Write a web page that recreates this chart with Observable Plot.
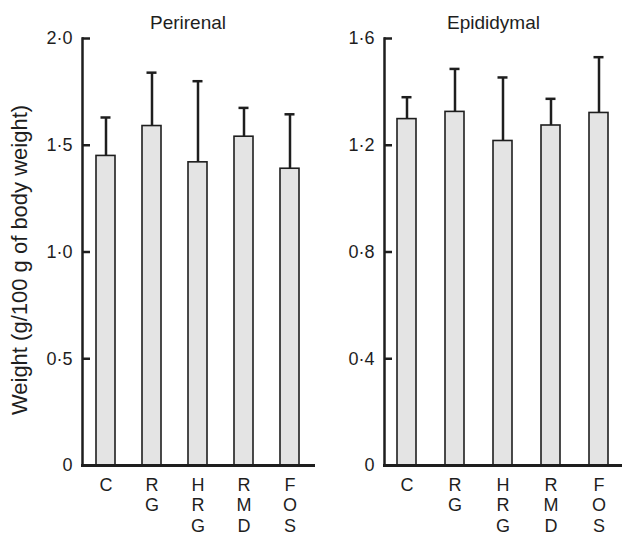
<!DOCTYPE html>
<html>
<head>
<meta charset="utf-8">
<script src="https://cdn.jsdelivr.net/npm/d3@7"></script>
<script src="https://cdn.jsdelivr.net/npm/@observablehq/plot@0.6"></script>
<style>
  html, body { margin: 0; padding: 0; background: #fff; }
  #wrap { position: relative; width: 622px; height: 538px; }
  #wrap svg { position: absolute; top: 0; font-family: "Liberation Sans", Arial, sans-serif; }
</style>
</head>
<body>
<div id="wrap"></div>
<script>
const categories = ["C", "RG", "HRG", "RMD", "FOS"];
const perirenalMean = [1.45, 1.59, 1.42, 1.54, 1.39];
const perirenalUpper = [1.63, 1.84, 1.80, 1.675, 1.645];
const epididymalMean = [1.298, 1.325, 1.216, 1.274, 1.321];
const epididymalUpper = [1.38, 1.486, 1.454, 1.374, 1.53];
const perirenalTicks = [0, 0.5, 1.0, 1.5, 2.0];
const epididymalTicks = [0, 0.4, 0.8, 1.2, 1.6];
const titles = ["Perirenal", "Epididymal"];
const yLabel = "Weight (g/100 g of body weight)";

const fmt = d => d === 0 ? "0" : d.toFixed(1).replace(".", "·");
const ink = "#1e1e1e";

function panel({title, means, uppers, ticks, width, marginLeft, marginRight, paddingOuter, paddingInner, withLabel}) {
  const data = categories.map((c, i) => ({cat: c, mean: means[i], upper: uppers[i]}));
  const frameWidth = width - marginLeft - marginRight;
  const marks = [
    Plot.ruleX(data, {x: "cat", y1: "mean", y2: "upper", stroke: ink, strokeWidth: 2.5}),
    Plot.tickY(data, {x: "cat", y: "upper", stroke: ink, strokeWidth: 2.5, insetLeft: 4.5, insetRight: 4.5}),
    Plot.barY(data, {x: "cat", y: "mean", fill: "#e4e4e4", stroke: ink, strokeWidth: 1.6}),
    // inward tick marks on the y axis
    Plot.tickY(ticks, {y: d => d, stroke: ink, strokeWidth: 2.5, insetRight: frameWidth - 8}),
    Plot.axisY({ticks, tickFormat: fmt, tickSize: 0, tickPadding: 10, fontSize: 18, fill: ink, label: null}),
    Plot.axisX({tickSize: 0, tickPadding: 11, fontSize: 18, lineHeight: 1.13, fill: ink, label: null,
      tickFormat: d => d.split("").join("\n")}),
    Plot.frame({anchor: "left", stroke: ink, strokeWidth: 2.5}),
    Plot.frame({anchor: "bottom", stroke: ink, strokeWidth: 3}),
    Plot.text([title], {frameAnchor: "top", dy: -23, dx: -10, fontSize: 19, fill: ink})
  ];
  if (withLabel) {
    marks.push(Plot.text([yLabel], {frameAnchor: "left", textAnchor: "middle", rotate: -90, dx: -63, dy: 8, fontSize: 22, fill: ink}));
  }
  return Plot.plot({
    width, height: 538,
    marginLeft, marginRight, marginTop: 38, marginBottom: 73,
    style: {fontFamily: '"Liberation Sans", Arial, sans-serif', background: "transparent", overflow: "visible"},
    x: {domain: categories, paddingInner, paddingOuter, axis: null},
    y: {domain: [ticks[0], ticks[ticks.length - 1]], axis: null},
    marks
  });
}

const wrap = document.getElementById("wrap");
const left = panel({title: titles[0], means: perirenalMean, uppers: perirenalUpper, ticks: perirenalTicks,
  width: 316, marginLeft: 82, marginRight: 3, paddingInner: 0.59, paddingOuter: 0.29, withLabel: true});
left.style.left = "0px";
const right = panel({title: titles[1], means: epididymalMean, uppers: epididymalUpper, ticks: epididymalTicks,
  width: 306, marginLeft: 68, marginRight: 0, paddingInner: 0.597, paddingOuter: 0.27, withLabel: false});
right.style.left = "316px";
wrap.appendChild(left);
wrap.appendChild(right);
</script>
</body>
</html>
